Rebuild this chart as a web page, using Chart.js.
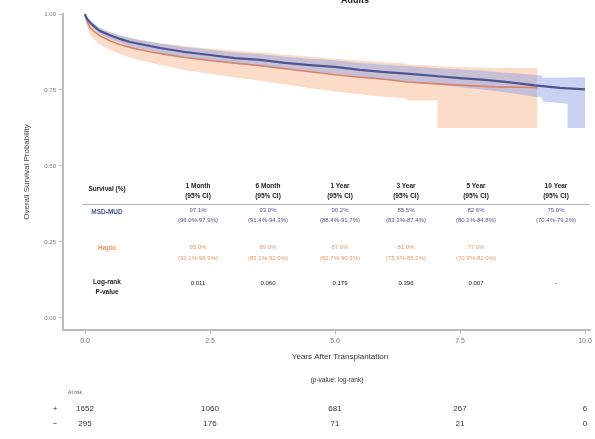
<!DOCTYPE html>
<html>
<head>
<meta charset="utf-8">
<style>
  body { margin: 0; background: #fff; }
  #wrap { width: 595px; height: 439px; position: relative; }
</style>
<script src="https://cdn.jsdelivr.net/npm/chart.js@4.4.1/dist/chart.umd.min.js"></script>
</head>
<body>
<div id="wrap"><canvas id="kmChart"></canvas></div>
<script>
// group 1 (blue) - survival curve
const blueTimes = [0, 0.02, 0.05, 0.1, 0.2, 0.3, 0.5, 0.7, 0.9, 1.2, 1.5, 2.0, 2.5, 3.0, 3.5, 4.0, 4.5, 5.0, 5.5, 6.0, 6.5, 7.0, 7.5, 8.0, 8.5, 9.0, 9.5, 10.0];
const blueSurv  = [1, 0.990, 0.982, 0.972, 0.957, 0.944, 0.930, 0.918, 0.908, 0.898, 0.888, 0.875, 0.865, 0.855, 0.849, 0.839, 0.832, 0.826, 0.816, 0.809, 0.803, 0.796, 0.789, 0.783, 0.775, 0.765, 0.757, 0.752];
// blue confidence band (repeated times mark steps)
const blueBandTimes = [0, 0.02, 0.05, 0.1, 0.2, 0.3, 0.5, 0.7, 0.9, 1.2, 1.5, 2.0, 2.5, 3.0, 3.5, 4.0, 4.5, 5.0, 5.5, 6.0, 6.5, 7.0, 7.5, 8.0, 8.5, 9.0, 9.15, 9.15, 9.65, 9.65, 10.0];
const blueLower = [1, 0.984, 0.974, 0.963, 0.947, 0.933, 0.918, 0.905, 0.894, 0.883, 0.872, 0.858, 0.847, 0.836, 0.829, 0.818, 0.810, 0.803, 0.792, 0.784, 0.776, 0.768, 0.759, 0.751, 0.740, 0.728, 0.725, 0.712, 0.705, 0.625, 0.625];
const blueUpper = [1, 0.995, 0.989, 0.980, 0.966, 0.954, 0.941, 0.930, 0.921, 0.912, 0.903, 0.891, 0.882, 0.873, 0.868, 0.859, 0.853, 0.848, 0.839, 0.833, 0.828, 0.822, 0.817, 0.812, 0.806, 0.800, 0.798, 0.790, 0.790, 0.792, 0.792];

// group 2 (orange) - survival curve
const orangeTimes = [0, 0.02, 0.05, 0.1, 0.2, 0.3, 0.5, 0.7, 1.0, 1.3, 1.6, 2.0, 2.5, 3.0, 3.5, 4.0, 4.5, 5.0, 5.5, 6.0, 6.45, 7.05, 7.6, 8.2, 9.05];
const orangeSurv  = [1, 0.986, 0.972, 0.956, 0.940, 0.928, 0.912, 0.899, 0.886, 0.876, 0.867, 0.857, 0.847, 0.838, 0.830, 0.820, 0.810, 0.800, 0.792, 0.785, 0.776, 0.770, 0.765, 0.760, 0.758];
// orange confidence band
const orangeBandTimes = [0, 0.02, 0.05, 0.1, 0.2, 0.3, 0.5, 0.7, 1.0, 1.3, 1.6, 2.0, 2.5, 3.0, 3.5, 4.0, 4.5, 5.0, 5.5, 6.0, 6.45, 6.45, 7.05, 7.05, 7.6, 8.2, 9.05];
const orangeLower = [1, 0.972, 0.952, 0.933, 0.914, 0.900, 0.882, 0.868, 0.852, 0.840, 0.829, 0.816, 0.803, 0.791, 0.780, 0.768, 0.756, 0.745, 0.736, 0.728, 0.722, 0.715, 0.715, 0.625, 0.625, 0.625, 0.625];
const orangeUpper = [1, 0.995, 0.987, 0.975, 0.963, 0.953, 0.939, 0.928, 0.917, 0.909, 0.902, 0.894, 0.886, 0.879, 0.873, 0.866, 0.860, 0.853, 0.847, 0.841, 0.836, 0.833, 0.830, 0.828, 0.825, 0.822, 0.822];

const xTicks = [0, 2.5, 5, 7.5, 10];
const yTicks = [0, 0.25, 0.5, 0.75, 1];

// survival table inside plot
const tableHeaders = ["1 Month", "6 Month", "1 Year", "3 Year", "5 Year", "10 Year"];
const blueLabel = "MSD-MUD";
const orangeLabel = "Haplo";
const blueSurvText = ["97.1%", "93.0%", "90.2%", "85.5%", "82.6%", "75.0%"];
const blueCIText = ["(96.0%-97.9%)", "(91.4%-94.3%)", "(88.4%-91.7%)", "(83.3%-87.4%)", "(80.1%-84.8%)", "(70.4%-79.2%)"];
const orangeSurvText = ["95.0%", "89.0%", "87.0%", "81.0%", "77.0%"];
const orangeCIText = ["(92.1%-96.9%)", "(85.1%-92.0%)", "(82.7%-90.3%)", "(75.9%-85.1%)", "(70.9%-82.0%)"];
const pValueText = ["0.011", "0.060", "0.179", "0.396", "0.007", "-"];

// numbers at risk
const riskTimes = [0, 2.5, 5, 7.5, 10];
const riskBlue = [1652, 1060, 681, 267, 6];
const riskOrange = [295, 176, 71, 21, 0];

const BLUE = "#4d5590";
const ORANGE = "#d9826b";

function pts(xs, ys) {
    return xs.map((x, i) => ({ x: x, y: ys[i] }));
}

const tablePlugin = {
    id: "kmTable",
    afterDraw(chart) {
        const ctx = chart.ctx;
        const xs = chart.scales.x;
        const colX = [198, 268, 340, 406, 476, 556];
        ctx.save();
        ctx.textAlign = "center";
        ctx.textBaseline = "middle";

        // header
        ctx.fillStyle = "#222";
        ctx.font = "bold 6.5px 'Liberation Sans', Arial";
        ctx.fillText("Survival (%)", 107, 189);
        tableHeaders.forEach((h, i) => {
            ctx.fillText(h, colX[i], 186);
            ctx.fillText("(95% CI)", colX[i], 196);
        });
        ctx.strokeStyle = "#aab2cf";
        ctx.lineWidth = 1;
        ctx.beginPath();
        ctx.moveTo(82, 204.5);
        ctx.lineTo(590, 204.5);
        ctx.stroke();

        // blue row
        ctx.fillStyle = BLUE;
        ctx.fillText(blueLabel, 107, 212);
        ctx.font = "6px 'Liberation Sans', Arial";
        blueSurvText.forEach((t, i) => {
            ctx.fillText(t, colX[i], 210);
            ctx.fillText(blueCIText[i], colX[i], 220);
        });

        // orange row
        ctx.fillStyle = "#e39a6a";
        ctx.font = "bold 6.5px 'Liberation Sans', Arial";
        ctx.fillText(orangeLabel, 107, 248);
        ctx.font = "6px 'Liberation Sans', Arial";
        orangeSurvText.forEach((t, i) => {
            ctx.fillText(t, colX[i], 247);
            ctx.fillText(orangeCIText[i], colX[i], 258);
        });

        // p-values
        ctx.fillStyle = "#222";
        ctx.font = "bold 6.5px 'Liberation Sans', Arial";
        ctx.fillText("Log-rank", 107, 282);
        ctx.fillText("P-value", 107, 292);
        ctx.font = "6px 'Liberation Sans', Arial";
        pValueText.forEach((t, i) => {
            ctx.fillText(t, colX[i], 283);
        });

        // title (partly cut at top)
        ctx.font = "bold 9px 'Liberation Sans', Arial";
        ctx.fillText("Adults", 355, 1);

        // x title and subtitle
        ctx.fillStyle = "#333";
        ctx.font = "8px 'Liberation Sans', Arial";
        ctx.fillText("Years After Transplantation", 340, 357);
        ctx.font = "6.5px 'Liberation Sans', Arial";
        ctx.fillText("(p-value: log-rank)", 337, 380);

        // numbers at risk
        ctx.font = "5px 'Liberation Sans', Arial";
        ctx.fillStyle = "#555";
        ctx.fillText("At risk", 75, 393);
        ctx.font = "8px 'Liberation Sans', Arial";
        ctx.fillStyle = "#333";
        ctx.fillText("+", 55, 409);
        ctx.fillText("\u2212", 55, 424);
        riskTimes.forEach((t, i) => {
            const px = xs.getPixelForValue(t);
            ctx.fillText(String(riskBlue[i]), px, 409);
            ctx.fillText(String(riskOrange[i]), px, 424);
        });
        ctx.restore();
    }
};

const ctx = document.getElementById("kmChart").getContext("2d");

new Chart(ctx, {
    type: "line",
    data: {
        datasets: [
            { data: pts(blueTimes, blueSurv), borderColor: BLUE, borderWidth: 2.2, pointRadius: 0, fill: false, order: 0 },
            { data: pts(orangeTimes, orangeSurv), borderColor: ORANGE, borderWidth: 1.6, pointRadius: 0, fill: false, order: 1 },
            { data: pts(blueBandTimes, blueUpper), borderWidth: 0, pointRadius: 0, fill: "+1", backgroundColor: "rgba(135,155,228,0.45)", order: 2 },
            { data: pts(blueBandTimes, blueLower), borderWidth: 0, pointRadius: 0, fill: false, order: 3 },
            { data: pts(orangeBandTimes, orangeUpper), borderWidth: 0, pointRadius: 0, fill: "+1", backgroundColor: "rgba(245,178,135,0.45)", order: 4 },
            { data: pts(orangeBandTimes, orangeLower), borderWidth: 0, pointRadius: 0, fill: false, order: 5 }
        ]
    },
    options: {
        responsive: true,
        maintainAspectRatio: false,
        animation: false,
        clip: false,
        layout: { padding: { left: 22, right: 5, top: 14, bottom: 87 } },
        plugins: {
            legend: { display: false },
            tooltip: { enabled: false }
        },
        scales: {
            x: {
                type: "linear",
                min: -0.44,
                max: 10.1,
                afterBuildTicks: s => { s.ticks = xTicks.map(v => ({ value: v })); },
                afterFit: s => { s.height = 22; },
                ticks: {
                    callback: v => v.toFixed(1),
                    font: { size: 7, family: "'Liberation Sans', Arial" },
                    color: "#777",
                    padding: 3,
                    maxRotation: 0
                },
                grid: { display: true, drawOnChartArea: false, drawTicks: true, tickLength: 4, color: "#bbb" },
                border: { display: true, color: "#bbb", width: 2 }
            },
            y: {
                min: -0.04,
                max: 1.0,
                afterBuildTicks: s => { s.ticks = yTicks.map(v => ({ value: v })); },
                afterFit: s => { s.width = 41; },
                ticks: {
                    callback: v => v.toFixed(2),
                    font: { size: 6, family: "'Liberation Sans', Arial" },
                    color: "#777",
                    padding: 3
                },
                grid: { display: true, drawOnChartArea: false, drawTicks: true, tickLength: 4, color: "#bbb" },
                border: { display: true, color: "#bbb", width: 2 },
                title: {
                    display: true,
                    text: "Overall Survival Probability",
                    font: { size: 8, family: "'Liberation Sans', Arial" },
                    color: "#444",
                    padding: 0
                }
            }
        }
    },
    plugins: [tablePlugin]
});
</script>
</body>
</html>
